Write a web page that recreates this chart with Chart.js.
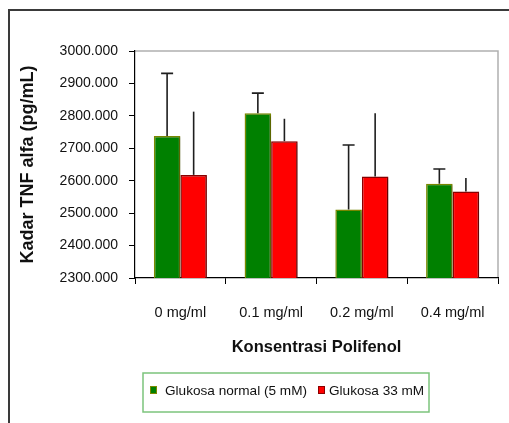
<!DOCTYPE html>
<html>
<head>
<meta charset="utf-8">
<script src="https://cdn.jsdelivr.net/npm/chart.js@4.4.1/dist/chart.umd.min.js"></script>
<style>
  html, body { margin: 0; padding: 0; background: #ffffff; }
  #wrap { width: 509px; height: 423px; position: relative; }
</style>
</head>
<body>
<div id="wrap"><canvas id="c" width="509" height="423"></canvas></div>
<script>
const categories = ['0 mg/ml', '0.1 mg/ml', '0.2 mg/ml', '0.4 mg/ml'];
const seriesNames = ['Glukosa normal (5 mM)', 'Glukosa 33 mM'];
const normalValues = [2738, 2808, 2511, 2591];
const normalErrors = [193, 62, 199, 45];
const highValues = [2618, 2722, 2613, 2567];
const highErrors = [195, 69, 195, 41];
const yMin = 2300, yMax = 3000, yStep = 100;
const yTitle = 'Kadar TNF alfa (pg/mL)';
const xTitle = 'Konsentrasi Polifenol';

const FONT = "'Liberation Sans', Arial, sans-serif";

const decorPlugin = {
  id: 'decor',
  beforeDraw(chart) {
    const ctx = chart.ctx;
    ctx.save();
    ctx.fillStyle = '#ffffff';
    ctx.fillRect(0, 0, chart.width, chart.height);
    ctx.strokeStyle = '#3a3a3a';
    ctx.lineWidth = 2;
    ctx.beginPath();
    ctx.moveTo(9, chart.height);
    ctx.lineTo(9, 10);
    ctx.lineTo(chart.width, 10);
    ctx.stroke();
    const a = chart.chartArea;
    ctx.strokeStyle = '#b0b0b0';
    ctx.lineWidth = 1.5;
    ctx.beginPath();
    ctx.moveTo(a.left, a.top);
    ctx.lineTo(a.right, a.top);
    ctx.lineTo(a.right, a.bottom);
    ctx.stroke();
    ctx.restore();
  },
  beforeDatasetsDraw(chart) {
    const ctx = chart.ctx;
    ctx.save();
    ctx.shadowColor = 'rgba(0,0,0,0.28)';
    ctx.shadowBlur = 2;
    ctx.shadowOffsetX = 2;
    ctx.shadowOffsetY = 1;
  },
  afterDatasetsDraw(chart) {
    const ctx = chart.ctx;
    ctx.restore();
    const y = chart.scales.y;
    const errs = [normalErrors, highErrors];
    const caps = [12, 0];
    ctx.save();
    ctx.strokeStyle = '#1e1e1e';
    ctx.lineWidth = 1.6;
    chart.data.datasets.forEach((ds, di) => {
      const meta = chart.getDatasetMeta(di);
      meta.data.forEach((bar, i) => {
        const v = ds.data[i];
        const top = y.getPixelForValue(v + errs[di][i]);
        const base = y.getPixelForValue(v);
        ctx.beginPath();
        ctx.moveTo(bar.x, base);
        ctx.lineTo(bar.x, top);
        if (caps[di] > 0) {
          ctx.moveTo(bar.x - caps[di] / 2, top);
          ctx.lineTo(bar.x + caps[di] / 2, top);
        }
        ctx.stroke();
      });
    });
    ctx.restore();
  },
  afterDraw(chart) {
    const ctx = chart.ctx;
    ctx.save();
    ctx.strokeStyle = '#7cc47c';
    ctx.lineWidth = 1.5;
    ctx.strokeRect(143, 373, 286, 39);
    ctx.font = "13.6px " + FONT;
    ctx.textBaseline = 'middle';
    const items = [
      { sx: 150, tx: 165 },
      { sx: 318, tx: 329 }
    ];
    chart.data.datasets.forEach((ds, di) => {
      const it = items[di];
      ctx.fillStyle = ds.backgroundColor;
      ctx.fillRect(it.sx, 386, 7, 8);
      ctx.strokeStyle = ds.borderColor;
      ctx.lineWidth = 1;
      ctx.strokeRect(it.sx + 0.5, 386.5, 6, 7);
      ctx.fillStyle = '#111111';
      ctx.fillText(ds.label, it.tx, 391);
    });
    ctx.restore();
  }
};

new Chart(document.getElementById('c'), {
  type: 'bar',
  data: {
    labels: categories,
    datasets: [
      {
        label: seriesNames[0],
        data: normalValues,
        backgroundColor: '#008000',
        borderColor: '#7a8a00',
        borderWidth: 1.5,
        categoryPercentage: 0.585,
        barPercentage: 1.0
      },
      {
        label: seriesNames[1],
        data: highValues,
        backgroundColor: '#ff0000',
        borderColor: '#8a0000',
        borderWidth: 1.5,
        categoryPercentage: 0.585,
        barPercentage: 1.0
      }
    ]
  },
  options: {
    responsive: false,
    animation: false,
    devicePixelRatio: 1,
    layout: { padding: { left: 10, right: 11, top: 51, bottom: 65 } },
    plugins: {
      legend: { display: false },
      tooltip: { enabled: false }
    },
    scales: {
      x: {
        grid: { display: true, drawOnChartArea: false, drawTicks: true, tickLength: 6, color: '#000000', lineWidth: 1 },
        border: { display: true, color: '#000000', width: 1.2 },
        ticks: { color: '#111111', font: { family: FONT, size: 14.5 }, padding: 20 },
        title: { display: true, text: xTitle, color: '#111111', font: { family: FONT, size: 16.5, weight: 'bold' }, padding: { top: 0, bottom: 1 } },
        afterFit(scale) { scale.height = 80; }
      },
      y: {
        min: yMin,
        max: yMax,
        ticks: {
          stepSize: yStep,
          color: '#111111',
          font: { family: FONT, size: 14 },
          padding: 11,
          callback: (v) => Number(v).toFixed(3)
        },
        grid: { display: true, drawOnChartArea: false, drawTicks: true, tickLength: 6, color: '#000000', lineWidth: 1 },
        border: { display: true, color: '#000000', width: 1.2 },
        title: { display: true, text: yTitle, color: '#111111', font: { family: FONT, size: 18, weight: 'bold' }, padding: { top: 7, bottom: 0 } },
        afterFit(scale) { scale.width = 125; }
      }
    }
  },
  plugins: [decorPlugin]
});
</script>
</body>
</html>
